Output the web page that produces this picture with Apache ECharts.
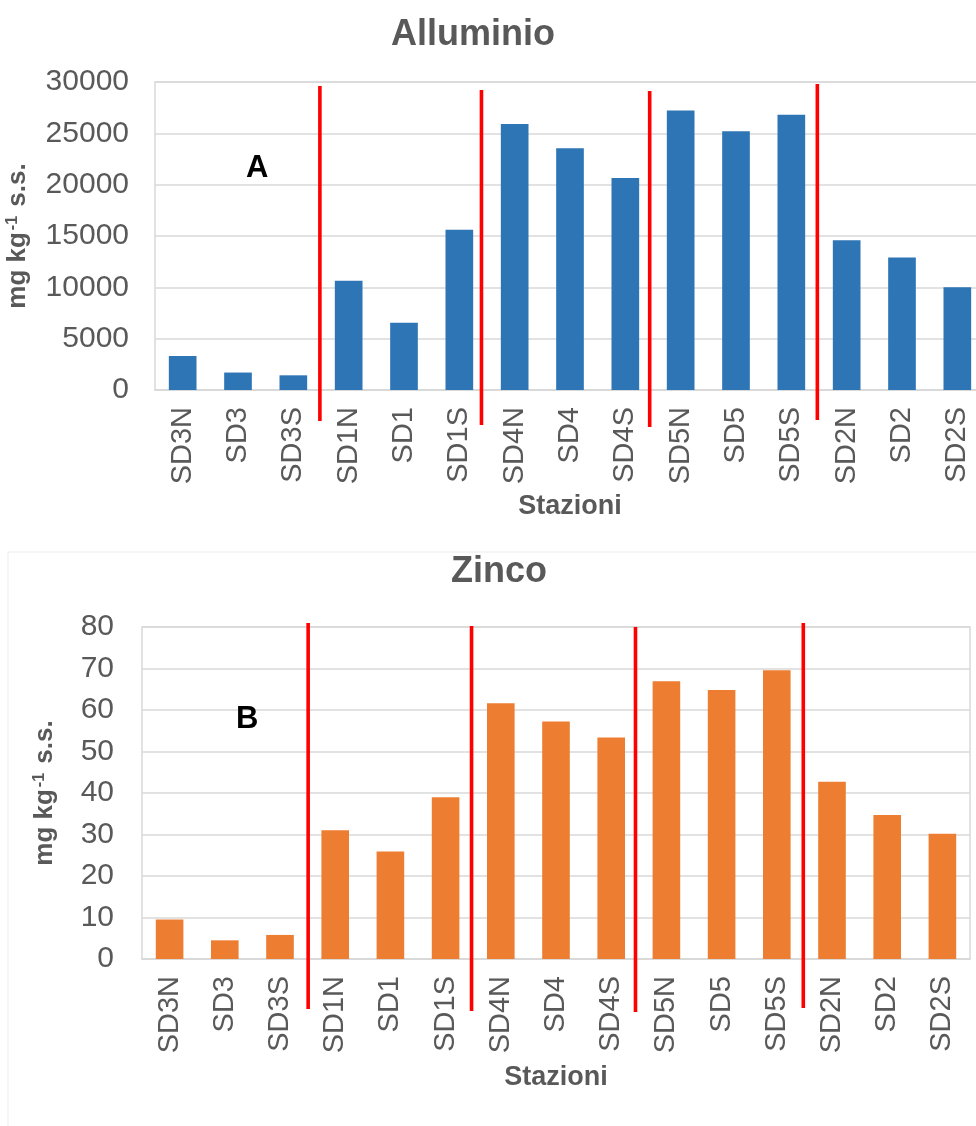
<!DOCTYPE html>
<html>
<head>
<meta charset="utf-8">
<script src="https://cdn.jsdelivr.net/npm/echarts@6/dist/echarts.min.js"></script>
<style>
html,body{margin:0;padding:0;background:#fff;overflow:hidden;}
#c{width:976px;height:1126px;}
</style>
</head>
<body>
<div id="c"></div>
<script>
const categories = ['SD3N','SD3','SD3S','SD1N','SD1','SD1S','SD4N','SD4','SD4S','SD5N','SD5','SD5S','SD2N','SD2','SD2S'];
const alluminio = [3300,1700,1430,10650,6560,15600,25900,23540,20640,27220,25200,26800,14580,12900,10000];
const zinco = [9.5,4.5,5.8,31,25.9,39,61.6,57.2,53.4,66.9,64.8,69.6,42.7,34.7,30.2];
const titles = ['Alluminio','Zinco'];
const panelLetters = ['A','B'];
const xAxisTitle = 'Stazioni';
const yAxisA = {min:0, max:30000, interval:5000};
const yAxisB = {min:0, max:80, interval:10};
// station-group separators, in category-index units
const dividersA = [2.48, 5.4, 8.44, 11.47];
const dividersB = [2.51, 5.47, 8.44, 11.48];

const GRAY = '#595959';
const GRID = '#d9d9d9';
const FONT = 'Liberation Sans, Arial, sans-serif';

const chart = echarts.init(document.getElementById('c'), null, {renderer:'canvas'});

function yName() {
  return '{b|mg kg}{s|-1}{b| s.s.}';
}
const nameRich = {
  b:{fontSize:26, fontWeight:'bold', color:GRAY, fontFamily:FONT},
  s:{fontSize:16, fontWeight:'bold', color:GRAY, fontFamily:FONT, verticalAlign:'top', padding:[0,2,10,2]}
};

const option = {
  animation:false,
  backgroundColor:'#fff',
  title:[
    {text:titles[0], left:468, top:12, textAlign:'center',
     textStyle:{fontSize:36, fontWeight:'bold', color:GRAY, fontFamily:FONT}},
    {text:titles[1], left:494, top:549, textAlign:'center',
     textStyle:{fontSize:36, fontWeight:'bold', color:GRAY, fontFamily:FONT}}
  ],
  grid:[
    {left:155, top:82, width:830, height:308, show:true, borderColor:GRID, borderWidth:1.5,
     backgroundColor:'transparent', containLabel:false, outerBoundsMode:'none'},
    {left:142, top:627, width:828, height:332, show:true, borderColor:GRID, borderWidth:1.5,
     backgroundColor:'transparent', containLabel:false, outerBoundsMode:'none'}
  ],
  xAxis:[0,1].map(i => ({
    type:'category', gridIndex:i, data:categories,
    axisTick:{show:false},
    axisLine:{show:true, lineStyle:{color:GRID, width:1.5}},
    axisLabel:{rotate:90, margin:17, fontSize:29, color:GRAY, fontFamily:FONT, interval:0},
    name:xAxisTitle, nameLocation:'middle', nameGap: i===0 ? 103 : 105,
    nameTextStyle:{fontSize:27, fontWeight:'bold', color:GRAY, fontFamily:FONT}
  })),
  yAxis:[
    {type:'value', gridIndex:0, min:yAxisA.min, max:yAxisA.max, interval:yAxisA.interval,
     axisLine:{show:false}, axisTick:{show:false},
     splitLine:{lineStyle:{color:GRID, width:1.5}},
     axisLabel:{fontSize:30, color:GRAY, fontFamily:FONT, margin:26, formatter:v => String(v)},
     name:yName(), nameLocation:'middle', nameGap:124, nameRotate:90,
     nameTextStyle:{rich:nameRich}},
    {type:'value', gridIndex:1, min:yAxisB.min, max:yAxisB.max, interval:yAxisB.interval,
     axisLine:{show:false}, axisTick:{show:false},
     splitLine:{lineStyle:{color:GRID, width:1.5}},
     axisLabel:{fontSize:30, color:GRAY, fontFamily:FONT, margin:28, formatter:v => String(v)},
     name:yName(), nameLocation:'middle', nameGap:84, nameRotate:90,
     nameTextStyle:{rich:nameRich}}
  ],
  series:[
    {type:'bar', xAxisIndex:0, yAxisIndex:0, data:alluminio, barWidth:'50%',
     itemStyle:{color:'#2E75B6'}},
    {type:'bar', xAxisIndex:1, yAxisIndex:1, data:zinco, barWidth:'50%',
     itemStyle:{color:'#ED7D31'}}
  ]
};
chart.setOption(option);

// separator lines placed via the category axis scale
function catX(axisIndex, pos) {
  const x0 = chart.convertToPixel({xAxisIndex:axisIndex}, 0);
  const x1 = chart.convertToPixel({xAxisIndex:axisIndex}, 1);
  return x0 + (x1 - x0) * pos;
}
const extA = [[86,421],[90,425],[91,427],[84,420]];
const extB = [[623,1009],[626,1011],[627,1012],[623,1008]];
const graphics = [];
dividersA.forEach((d,k) => {
  const x = catX(0, d);
  graphics.push({type:'line', shape:{x1:x, y1:extA[k][0], x2:x, y2:extA[k][1]},
    style:{stroke:'#ff0000', lineWidth:3.6}, z:100});
});
dividersB.forEach((d,k) => {
  const x = catX(1, d);
  graphics.push({type:'line', shape:{x1:x, y1:extB[k][0], x2:x, y2:extB[k][1]},
    style:{stroke:'#ff0000', lineWidth:3.6}, z:100});
});
graphics.push({type:'text', left:246, top:153, style:{text:panelLetters[0], fontSize:31, fontWeight:'bold', fill:'#000', fontFamily:FONT}, z:100});
graphics.push({type:'text', left:236, top:704, style:{text:panelLetters[1], fontSize:31, fontWeight:'bold', fill:'#000', fontFamily:FONT}, z:100});
graphics.push({type:'rect', shape:{x:8, y:552, width:990, height:600}, style:{fill:'none', stroke:'#ececec', lineWidth:1}, z:-1});
chart.setOption({graphic:graphics});
</script>
</body>
</html>
